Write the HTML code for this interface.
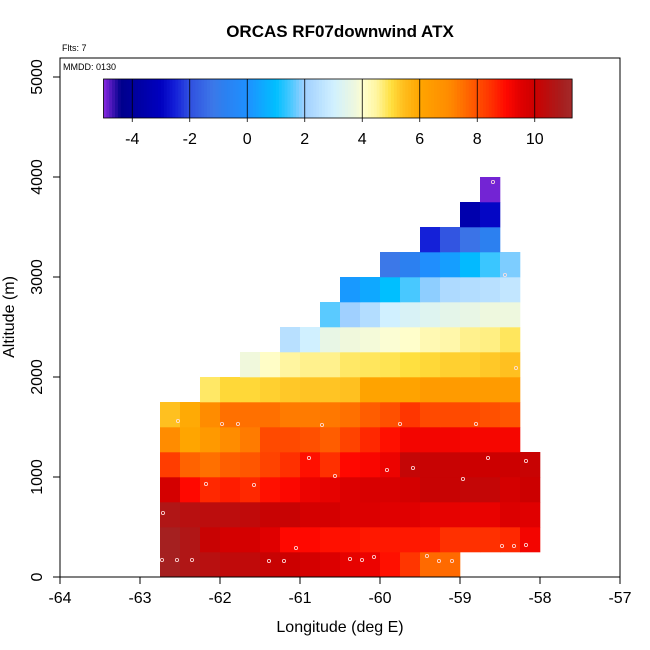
<!DOCTYPE html>
<html><head><meta charset="utf-8"><style>
body{margin:0;background:#fff}
svg{display:block;font-family:"Liberation Sans",sans-serif}
</style></head><body>
<svg id="c" width="650" height="650" xmlns="http://www.w3.org/2000/svg">
<text x="340" y="37" text-anchor="middle" font-size="17" font-weight="bold">ORCAS RF07downwind ATX</text>
<text x="62" y="51" font-size="9">Flts: 7</text>
<g id="cells"></g>
<g id="pts"></g>
<rect x="60" y="58" width="560" height="519" fill="none" stroke="#000"/>
<text x="63" y="70" font-size="9">MMDD: 0130</text>
<g id="cbar"></g>
<g id="axes"></g>
<text x="340" y="632" text-anchor="middle" font-size="16">Longitude (deg E)</text>
<text transform="translate(14,317) rotate(-90)" text-anchor="middle" font-size="16">Altitude (m)</text>
</svg>
<script>
const lonStart = -62.75, lonStep = 0.25, altStep = 250;
// rows from bottom (alt 0) upward; first column index per row
const rowStarts = [0,0,0,0,0,0,0,2,4,6,8,9,11,13,15,16];
const row0 = [11,10.7,10.5,10.3,10.3,10.1,10,9.8,9.6,9.4,9.3,8.9,8.4,7.6,7.6];
const row1 = [11,10.7,10.1,9.8,9.8,9.5,9,9,8.9,8.9,8.8,8.8,8.8,8.8,8.5,8.5,8.5,8.6,9.2];
const row2 = [10.7,10.5,10.4,10.4,10.3,10.1,10.1,9.8,9.8,9.6,9.6,9.5,9.5,9.4,9.4,9.35,9.35,9.6,9.5];
const row3 = [9.8,9,8.6,8.75,8.6,8.9,9.05,9.3,9.4,9.6,9.7,9.7,9.8,10.1,10.1,10.2,10.2,9.8,10];
const row4 = [8.3,7.7,7.5,7.8,7.9,8.2,8.5,8.9,8.5,9,9.1,9.3,10.2,10.1,10.1,10,10,10,10.1];
const row5 = [7,6,6.5,7,7.3,8.1,8.1,8,7.8,8.2,8.6,8.9,9.2,9.2,9.2,9.15,9.15,9.15];
const row6 = [5.4,5.9,7,7.5,7.5,7.5,7.3,7.3,7.35,7.5,7.8,8,8.4,8.1,8.1,8.1,8,7.9];
const row7 = [4.8,5.1,5.1,5.2,5.3,5.35,5.35,5.4,6.1,6.1,6.1,6.4,6.4,6.4,6.4,6.4];
const row8 = [3.8,4.1,4.5,4.6,4.6,4.8,4.85,4.9,5.0,5.1,5.2,5.2,5.3,5.4];
const row9 = [2.5,3,3.6,3.8,3.85,3.95,4.05,4.3,4.4,4.6,4.65,4.85];
const row10 = [1.6,2.0,2.4,3,3.2,3.35,3.5,3.6,3.75,3.75];
const row11 = [0.2,0.5,1.0,1.5,1.9,2.3,2.4,2.5,2.7];
const row12 = [-1.2,-0.8,-0.1,0.3,0.9,1.4,1.8];
const row13 = [-2.5,-1.9,-1.3,-0.8];
const row14 = [-3.5,-2.9];
const row15 = [-4.9];
const rows = [row0,row1,row2,row3,row4,row5,row6,row7,row8,row9,row10,row11,row12,row13,row14,row15];
const ptLon = [-62.525,-61.975,-61.775,-60.725,-59.75,-58.8,-60.888,-58.65,-58.175,-59.913,-59.588,-60.563,-62.175,-61.575,-58.963,-62.713,-61.05,-58.475,-58.325,-58.175,-62.725,-62.538,-62.35,-61.388,-61.2,-60.375,-60.225,-60.075,-59.413,-59.263,-59.1,-58.588,-58.438,-58.3];
const ptAlt = [1560,1530,1530,1520,1530,1530,1190,1190,1160,1070,1090,1010,930,920,980,640,290,310,310,320,170,170,170,160,160,180,170,200,210,160,160,3950,3020,2090];
const xTicks = [-64,-63,-62,-61,-60,-59,-58,-57];
const yTicks = [0,1000,2000,3000,4000,5000];
const cbTicks = [-4,-2,0,2,4,6,8,10];
const cbMin = -5, cbMax = 11.3;

const X = lon => 60 + (lon + 64) * 80;
const Y = alt => 577 - alt * 0.1;
const CB = v => 103.5 + (v - cbMin) * 28.75;
const stops = [[-5,'#8a2be2'],[-4.4,'#00008b'],[-3,'#0000c0'],[-2.5,'#1420d8'],[-2,'#3050e0'],[-1.2,'#3c78e8'],[-0.8,'#2c80f0'],[0,'#1e90ff'],[1,'#00bfff'],[1.5,'#48c8ff'],[2,'#a0d0ff'],[3,'#d0f0ff'],[3.8,'#f0f8dc'],[4,'#ffffd0'],[4.5,'#fff5a0'],[5,'#ffe040'],[5.4,'#ffc020'],[6,'#ffa500'],[7,'#ff8c00'],[7.5,'#ff7000'],[8,'#ff5000'],[8.5,'#ff3000'],[9,'#ff0800'],[9.5,'#e00000'],[10,'#cc0000'],[10.5,'#b81010'],[11,'#a52020'],[11.3,'#a52a2a']];
function hx(h){return [1,3,5].map(i=>parseInt(h.substr(i,2),16));}
function col(v){
  if(v<=stops[0][0])return stops[0][1];
  for(let i=1;i<stops.length;i++){if(v<=stops[i][0]){const a=stops[i-1],b=stops[i];const t=(v-a[0])/(b[0]-a[0]);const ca=hx(a[1]),cb=hx(b[1]);return 'rgb('+ca.map((c,k)=>Math.round(c+(cb[k]-c)*t)).join(',')+')';}}
  return stops[stops.length-1][1];
}
const NS='http://www.w3.org/2000/svg';
function mk(tag,attrs,parent){const e=document.createElementNS(NS,tag);for(const k in attrs)e.setAttribute(k,attrs[k]);parent.appendChild(e);return e;}
const cells=document.getElementById('cells');
rows.forEach((r,ri)=>{r.forEach((v,j)=>{const c=rowStarts[ri]+j;const l=lonStart+c*lonStep;
  const e=mk('rect',{x:X(l),y:Y((ri+1)*altStep),width:X(l+lonStep)-X(l)+0.3,height:Y(ri*altStep)-Y((ri+1)*altStep)+0.3,fill:col(v)},cells);
  
  
});});
const pts=document.getElementById('pts');
ptLon.forEach((lo,i)=>{const e=mk('circle',{cx:X(lo),cy:Y(ptAlt[i]),r:1.6,fill:'none',stroke:'#ffe0e0','stroke-width':0.8},pts);
  
  
});
const cbar=document.getElementById('cbar');
for(let v=cbMin; v<cbMax-0.05; v+=0.1){const e=mk('rect',{x:CB(v),y:79,width:28.75*0.1+0.4,height:39,fill:col(v+0.05)},cbar);
  
  }
mk('rect',{x:CB(cbMin),y:79,width:CB(cbMax)-CB(cbMin),height:39,fill:'none',stroke:'#000','stroke-width':0.8},cbar);
cbTicks.forEach(t=>{const e=mk('line',{x1:CB(t),x2:CB(t),y1:79,y2:122,stroke:'#000','stroke-width':0.8},cbar);
  
  
  const tx=mk('text',{x:CB(t),y:144,'text-anchor':'middle','font-size':16},cbar);tx.textContent=t;
  
  });
const axes=document.getElementById('axes');
xTicks.forEach(t=>{const e=mk('line',{x1:X(t),x2:X(t),y1:577,y2:584,stroke:'#000'},axes);
  
  
  const tx=mk('text',{x:X(t),y:603,'text-anchor':'middle','font-size':16},axes);tx.textContent=t;
  
  });
yTicks.forEach(t=>{const e=mk('line',{x1:53,x2:60,y1:Y(t),y2:Y(t),stroke:'#000'},axes);
  
  
  const tx=mk('text',{transform:'translate(42,'+Y(t)+') rotate(-90)','text-anchor':'middle','font-size':16},axes);tx.textContent=t;
  
  });
</script>
</body></html>
